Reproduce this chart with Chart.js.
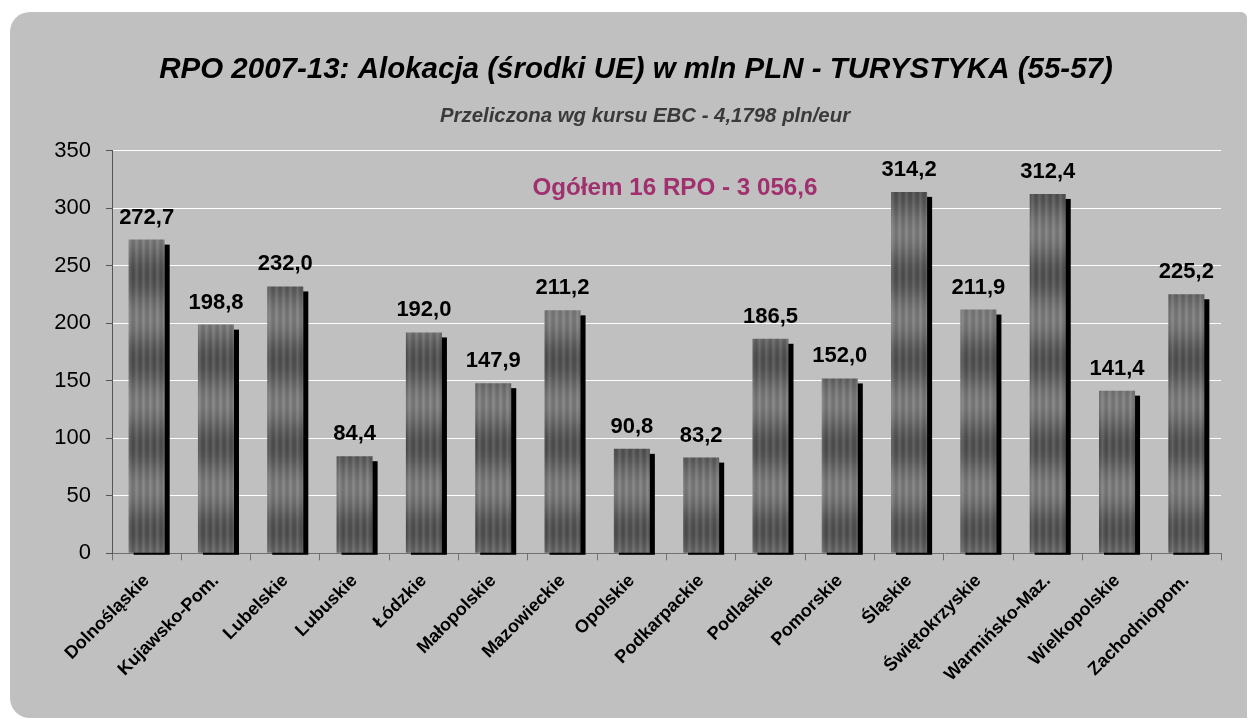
<!DOCTYPE html>
<html>
<head>
<meta charset="utf-8">
<script src="https://cdn.jsdelivr.net/npm/chart.js@4.4.1/dist/chart.umd.min.js"></script>
<style>
    body { margin: 0; background: #ffffff; }
    #panel {
        position: absolute; left: 10px; top: 12px; width: 1237px; height: 706px;
        background: #c0c0c0; border-radius: 20px 6px 0 20px; overflow: hidden;
    }
</style>
</head>
<body>
<div id="panel"><canvas id="bar-chart" width="1237" height="706"></canvas></div>
<script>
// values (mln PLN)
var regions = ['Dolnośląskie', 'Kujawsko-Pom.', 'Lubelskie', 'Lubuskie', 'Łódzkie', 'Małopolskie', 'Mazowieckie', 'Opolskie',
    'Podkarpackie', 'Podlaskie', 'Pomorskie', 'Śląskie', 'Świętokrzyskie', 'Warmińsko-Maz.', 'Wielkopolskie', 'Zachodniopom.'];
var allocation = [272.7, 198.8, 232.0, 84.4, 192.0, 147.9, 211.2, 90.8, 83.2, 186.5, 152.0, 314.2, 211.9, 312.4, 141.4, 225.2];
var yMax = 350;
var yStep = 50;

var titleText = 'RPO 2007-13: Alokacja (środki UE) w mln PLN - TURYSTYKA (55-57)';
var subtitleText = 'Przeliczona wg kursu EBC - 4,1798 pln/eur';
var totalText = 'Ogółem 16 RPO - 3 056,6';

var FONT = "'Liberation Sans', Arial, sans-serif";

// striped gray texture for the bars
function makeBarPattern() {
    var w = 7, h = 85;
    var c = document.createElement('canvas');
    c.width = w; c.height = h;
    var g = c.getContext('2d');
    var img = g.createImageData(w, h);
    var stripe = [14, 6, -2, -8, -10, -4, 6];
    for (var y = 0; y < h; y++) {
        var d = 0.5 + 0.5 * Math.cos(2 * Math.PI * (y - 8) / h);
        var base = 124 * (1 - d) + 84 * d;
        for (var x = 0; x < w; x++) {
            var v = Math.max(0, Math.min(255, Math.round(base + stripe[x])));
            var i = (y * w + x) * 4;
            img.data[i] = v; img.data[i + 1] = v; img.data[i + 2] = v; img.data[i + 3] = 255;
        }
    }
    g.putImageData(img, 0, 0);
    return document.getElementById('bar-chart').getContext('2d').createPattern(c, 'repeat');
}

var barShadow = {
    id: 'barShadow',
    beforeDatasetsDraw: function (chart) {
        var ctx = chart.ctx;
        ctx.save();
        ctx.fillStyle = '#000000';
        chart.getDatasetMeta(0).data.forEach(function (bar) {
            var p = bar.getProps(['x', 'y', 'width', 'base'], true);
            ctx.fillRect(p.x - p.width / 2 + 5, p.y + 5, p.width, p.base - p.y - 3);
        });
        ctx.restore();
    }
};

var valueLabels = {
    id: 'valueLabels',
    afterDatasetsDraw: function (chart) {
        var ctx = chart.ctx;
        var values = chart.data.datasets[0].data;
        ctx.save();
        ctx.font = 'bold 22px ' + FONT;
        ctx.fillStyle = '#000000';
        ctx.textAlign = 'center';
        ctx.textBaseline = 'alphabetic';
        chart.getDatasetMeta(0).data.forEach(function (bar, i) {
            ctx.fillText(values[i].toFixed(1).replace('.', ','), bar.x, bar.y - 16);
        });
        ctx.restore();
    }
};

var headerTexts = {
    id: 'headerTexts',
    afterDraw: function (chart) {
        var ctx = chart.ctx;
        ctx.save();
        ctx.textAlign = 'center';
        ctx.textBaseline = 'alphabetic';
        ctx.fillStyle = '#000000';
        ctx.font = 'italic bold 29.5px ' + FONT;
        ctx.fillText(titleText, 626, 66);
        ctx.fillStyle = '#3a3a3a';
        ctx.font = 'italic bold 20.4px ' + FONT;
        ctx.fillText(subtitleText, 635, 110);
        ctx.fillStyle = '#a0306e';
        ctx.font = 'bold 24.2px ' + FONT;
        ctx.fillText(totalText, 665, 183);
        ctx.restore();
    }
};

new Chart(document.getElementById('bar-chart'), {
    type: 'bar',
    data: {
        labels: regions,
        datasets: [{
            data: allocation,
            backgroundColor: makeBarPattern(),
            borderWidth: 0,
            categoryPercentage: 1,
            barPercentage: 0.52
        }]
    },
    options: {
        responsive: false,
        animation: false,
        devicePixelRatio: 1,
        layout: { padding: { top: 138.7, right: 26, bottom: 0, left: 0 } },
        plugins: {
            legend: { display: false },
            tooltip: { enabled: false },
            title: { display: false }
        },
        scales: {
            x: {
                afterFit: function (scale) { scale.height = 164.7; },
                border: { color: '#707070', width: 1 },
                grid: { offset: true, drawOnChartArea: false, drawTicks: true, tickLength: 7, tickColor: '#707070' },
                ticks: {
                    color: '#000000',
                    font: { family: FONT, size: 18, weight: 'bold' },
                    minRotation: 45, maxRotation: 45,
                    autoSkip: false,
                    padding: 10
                }
            },
            y: {
                min: 0,
                max: yMax,
                afterFit: function (scale) { scale.width = 102; },
                border: { color: '#555555', width: 1 },
                grid: { color: '#ffffff', lineWidth: 1, tickLength: 6, tickColor: '#555555' },
                ticks: {
                    stepSize: yStep,
                    color: '#000000',
                    font: { family: FONT, size: 22 },
                    padding: 15
                }
            }
        }
    },
    plugins: [barShadow, valueLabels, headerTexts]
});
</script>
</body>
</html>
